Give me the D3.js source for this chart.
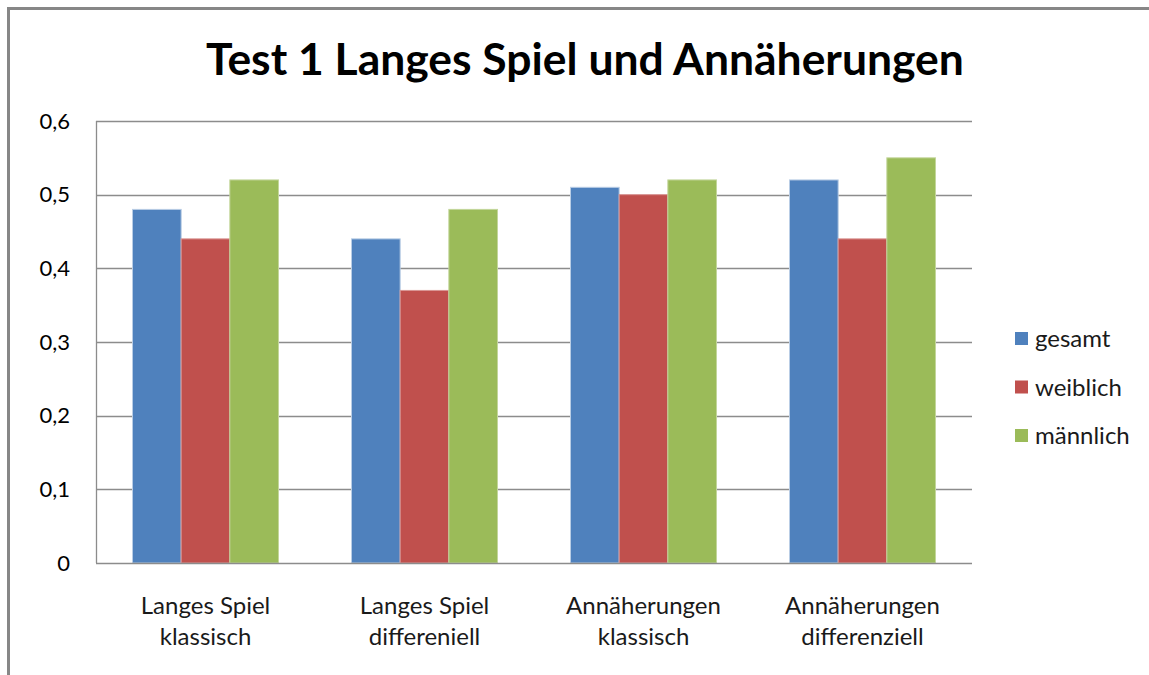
<!DOCTYPE html>
<html>
<meta charset="utf-8">
<style>
  body { margin: 0; background: #fff; overflow: hidden; }
  svg { display: block; }
  text { font-family: Lato, "Open Sans", sans-serif; fill: #000; }
</style>
<body>
<script src="https://d3js.org/d3.v7.min.js"></script>
<script>

// chart data
var categories = [["Langes Spiel", "klassisch"], ["Langes Spiel", "differeniell"],
                  ["Annäherungen", "klassisch"], ["Annäherungen", "differenziell"]];
var seriesNames = ["gesamt", "weiblich", "männlich"];
var gesamt   = [0.48, 0.44, 0.51, 0.52];
var weiblich = [0.44, 0.37, 0.50, 0.44];
var maennlich = [0.52, 0.48, 0.52, 0.55];
var yTicks = [0, 0.1, 0.2, 0.3, 0.4, 0.5, 0.6];
var colors = ["#4f81bd", "#c0504d", "#9bbb59"];
var edges = ["#b9cde5", "#d99694", "#c3d69b"];

var width = 1149, height = 675;
var plot = {left: 96, top: 121, right: 972, bottom: 563};

var svg = d3.select("body").append("svg")
  .attr("width", width)
  .attr("height", height);

// outer chart frame (runs past the picture on right and bottom)
svg.append("path")
  .attr("d", "M8.5," + height + "V8.5H" + width)
  .attr("fill", "none")
  .attr("stroke", "#878787")
  .attr("stroke-width", 3);

var x0 = d3.scaleBand()
  .domain(d3.range(categories.length))
  .range([plot.left, plot.right]);

// excel gap width 150% -> bar = band / 4.5
var barW = x0.bandwidth() / 4.5;
var x1 = d3.scaleBand()
  .domain(d3.range(seriesNames.length))
  .range([barW * 0.75, barW * 3.75]);

var y = d3.scaleLinear().domain([0, 0.6]).range([plot.bottom, plot.top]);

// gridlines
svg.append("g")
  .selectAll("line")
  .data(yTicks.slice(1))
  .enter().append("line")
  .attr("x1", plot.left).attr("x2", plot.right)
  .attr("y1", function(d) { return Math.round(y(d)) + 0.5; })
  .attr("y2", function(d) { return Math.round(y(d)) + 0.5; })
  .attr("stroke", "#8c8c8c")
  .attr("stroke-width", 1.3);

// y axis labels
var yAxis = d3.axisLeft(y).tickValues(yTicks).tickSize(0).tickPadding(26)
  .tickFormat(function(d) { return d === 0 ? "0" : d3.format(".1f")(d).replace(".", ","); });
var ya = svg.append("g")
  .attr("transform", "translate(" + plot.left + ",0)")
  .call(yAxis);
ya.select(".domain").remove();
ya.selectAll("text")
  .style("font-size", "22px")
  .attr("fill", "#111")
  .attr("font-family", "Lato, sans-serif");

// bars
var series = [gesamt, weiblich, maennlich];
series.forEach(function(vals, si) {
  svg.append("g")
    .selectAll("rect")
    .data(vals)
    .enter().append("rect")
    .attr("x", function(d, i) { return x0(i) + x1(si); })
    .attr("y", function(d) { return y(d); })
    .attr("width", x1.bandwidth())
    .attr("height", function(d) { return y(0) - y(d); })
    .attr("fill", colors[si])
    .attr("stroke", edges[si])
    .attr("stroke-width", 1);
});

// axis lines
svg.append("line")
  .attr("x1", plot.left + 0.5).attr("x2", plot.left + 0.5)
  .attr("y1", plot.top).attr("y2", plot.bottom)
  .attr("stroke", "#8c8c8c").attr("stroke-width", 1.3);
svg.append("line")
  .attr("x1", plot.left).attr("x2", plot.right)
  .attr("y1", plot.bottom + 0.5).attr("y2", plot.bottom + 0.5)
  .attr("stroke", "#8c8c8c").attr("stroke-width", 1.5);

// category labels
var cat = svg.append("g").selectAll("text")
  .data(categories)
  .enter().append("text")
  .attr("text-anchor", "middle")
  .style("font-size", "24px")
  .style("fill", "#1a1a1a")
  .attr("transform", function(d, i) { return "translate(" + (x0(i) + x0.bandwidth() / 2) + ",614)"; });
cat.each(function(d) {
  var t = d3.select(this);
  d.forEach(function(line, k) {
    t.append("tspan").attr("x", 0).attr("y", k * 31).text(line);
  });
});

// legend
var leg = svg.append("g").selectAll("g")
  .data(seriesNames)
  .enter().append("g")
  .attr("transform", function(d, i) { return "translate(1015," + (339 + i * 48.5) + ")"; });
leg.append("rect")
  .attr("x", 0).attr("y", -7)
  .attr("width", 13).attr("height", 13)
  .attr("fill", function(d, i) { return colors[i]; });
leg.append("text")
  .attr("x", 20).attr("y", 8)
  .style("font-size", "24px")
  .style("fill", "#1a1a1a")
  .text(function(d) { return d; });

// title
var title = svg.append("text")
  .attr("x", 585).attr("y", 75)
  .attr("text-anchor", "middle")
  .style("font-size", "40px")
  .style("font-weight", "bold")
  .text("Test 1 Langes Spiel und Annäherungen");
var tw = title.node().getComputedTextLength();
title.style("font-size", (40 * 758 / tw) + "px");

</script>
</body>
</html>
